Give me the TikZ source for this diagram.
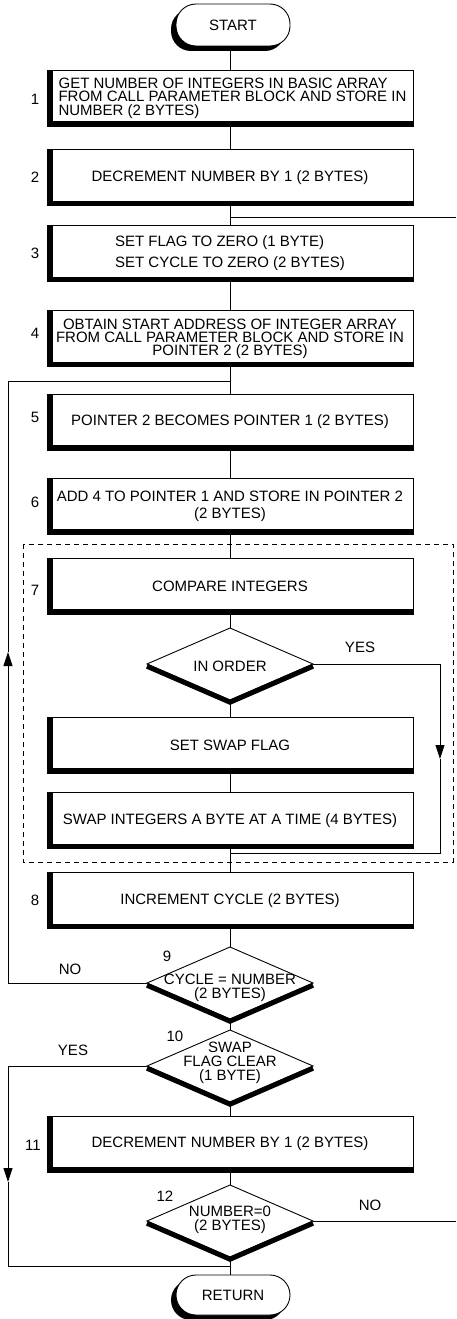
\documentclass[tikz,border=0pt]{standalone}
\usepackage{fontspec}
\setmainfont{Liberation Sans}
\usetikzlibrary{arrows.meta,shapes.geometric,shadows}
\begin{document}
\begin{tikzpicture}[x=1pt,y=-1pt,
  every node/.style={font=\fontsize{15}{14}\selectfont},
  ln/.style={line width=0.9pt},
  arr/.style={line width=0.9pt,-{Triangle[width=9pt,length=14pt]}},
  pbox/.style={rectangle, draw, line width=0.9pt, fill=white,
    minimum width=366pt, minimum height=56pt, inner sep=0pt, outer sep=0pt, align=center,
    path picture={
      \fill[black] (path picture bounding box.north west) rectangle ([xshift=5.5pt]path picture bounding box.south west);
      \fill[black] ([yshift=5pt]path picture bounding box.south west) rectangle (path picture bounding box.south east);}},
  dia/.style={diamond, draw, line width=0.9pt, fill=white, minimum width=166pt,
    minimum height=72pt, inner sep=0pt, outer sep=0pt},
  dtext/.style={align=center, inner sep=0pt, font=\fontsize{15}{14}\selectfont},
  thick edge/.style={line width=5pt, line join=miter, line cap=butt},
  term/.style={rectangle, rounded corners=20pt, draw, line width=0.9pt, fill=white,
    minimum width=114pt, minimum height=42pt, inner sep=0pt, outer sep=0pt,
    drop shadow={shadow xshift=-5pt, shadow yshift=-5pt, fill=black, opacity=1}},
  num/.style={inner sep=0pt},
  dashbox/.style={line width=0.9pt, dash pattern=on 5pt off 4pt}
]
\useasboundingbox[fill=white] (0,0) rectangle (456,1319);

% dashed group
\draw[dashbox] (23,544) rectangle (453,862);

% terminals
\node[term] (start) at (233,25) {START};
\node[term, minimum height=40pt] (ret) at (233,1295) {RETURN};

% boxes
\node[pbox, align=left, font=\fontsize{15}{13.5}\selectfont] (b1) at (230,98)
  {\hspace*{5pt}GET NUMBER OF INTEGERS IN BASIC ARRAY\\\hspace*{5pt}FROM CALL PARAMETER BLOCK AND STORE IN\\\hspace*{5pt}NUMBER (2 BYTES)};
\node[pbox, font=\fontsize{15}{14}\selectfont] (b2) at (230,177.5) {DECREMENT NUMBER BY 1 (2 BYTES)};
\node[pbox, align=left, font=\fontsize{15}{21}\selectfont] (b3) at (230,253.5)
  {SET FLAG TO ZERO (1 BYTE)\\SET CYCLE TO ZERO (2 BYTES)};
\node[pbox, font=\fontsize{15}{13}\selectfont] (b4) at (230,338.5)
  {OBTAIN START ADDRESS OF INTEGER ARRAY\\FROM CALL PARAMETER BLOCK AND STORE IN\\POINTER 2 (2 BYTES)};
\node[pbox] (b5) at (230,422) {POINTER 2 BECOMES POINTER 1 (2 BYTES)};
\node[pbox, font=\fontsize{15}{17}\selectfont] (b6) at (230,506)
  {ADD 4 TO POINTER 1 AND STORE IN POINTER 2\\(2 BYTES)};
\node[pbox] (b7) at (230,586) {COMPARE INTEGERS};
\node[pbox] (bset) at (230,745) {SET SWAP FLAG};
\node[pbox] (bswap) at (230,820.5) {SWAP INTEGERS A BYTE AT A TIME (4 BYTES)};
\node[pbox] (b8) at (230,900.5) {INCREMENT CYCLE (2 BYTES)};
\node[pbox] (b11) at (230,1144) {DECREMENT NUMBER BY 1 (2 BYTES)};

% diamonds
\node[dia] (dord) at (230,664) {};
\node[dia] (d9) at (230,983) {};
\node[dia] (d10) at (230,1066) {};
\node[dia] (d12) at (230,1221) {};
\foreach \d in {dord,d9,d10,d12}{
  \draw[thick edge] ([yshift=-2.2pt]\d.west) -- ([yshift=-2.2pt]\d.south) -- ([yshift=-2.2pt]\d.east);
}
\node[dtext] (tord) at (230,666) {IN ORDER};
\node[dtext] (t9) at (230,988) {CYCLE = NUMBER\\(2 BYTES)};
\node[dtext] (t10) at (230,1063) {SWAP\\FLAG CLEAR\\(1 BYTE)};
\node[dtext] (t12) at (230,1220) {NUMBER=0\\(2 BYTES)};

% step numbers
\node[num] (n1) at (35,99) {1};
\node[num] (n2) at (35,177) {2};
\node[num] (n3) at (35,253) {3};
\node[num] (n4) at (35,333) {4};
\node[num] (n5) at (35,417) {5};
\node[num] (n6) at (35,502) {6};
\node[num] (n7) at (35,590) {7};
\node[num] (n8) at (35,900) {8};
\node[num] (n9) at (167,956) {9};
\node[num] (n10) at (175,1036) {10};
\node[num] (n11) at (33,1145) {11};
\node[num] (n12) at (165,1196) {12};

% branch labels
\node[num] (lyes1) at (360,647) {YES};
\node[num] (lno1) at (70,969) {NO};
\node[num] (lyes2) at (73,1050) {YES};
\node[num] (lno2) at (370,1205) {NO};

% coordinates
\coordinate (j1) at (230,217);
\coordinate (e1) at (456,217);
\coordinate (j2) at (230,381);
\coordinate (j3) at (230,853);
\coordinate (j4) at (230,1266);
\coordinate (e2) at (456,1221);
\coordinate (tip1) at (440,759);
\coordinate (tip2) at (8,652);
\coordinate (tip3) at (8,1182);

% connectors
\draw[ln] (b1.north |- start.south) -- (b1.north);
\draw[ln] (b1.south) -- (b2.north);
\draw[ln] (b2.south) -- (b3.north);
\draw[ln] (j1) -- (e1);
\draw[ln] (b3.south) -- (b4.north);
\draw[ln] (b4.south) -- (b5.north);
\draw[ln] (b5.south) -- (b6.north);
\draw[ln] (b6.south) -- (b7.north);
\draw[ln] (b7.south) -- (dord.north);
\draw[ln] (dord.south) -- (bset.north);
\draw[ln] (bset.south) -- (bswap.north);
\draw[ln] (bswap.south) -- (b8.north);
\draw[arr] (dord.east) -| (tip1);
\draw[ln] (tip1) |- (j3);
\draw[ln] (b8.south) -- (d9.north);
\draw[arr] (d9.west) -| (tip2);
\draw[ln] (tip2) |- (j2);
\draw[ln] (d9.south) -- (d10.north);
\draw[arr] (d10.west) -| (tip3);
\draw[ln] (tip3) |- (j4);
\draw[ln] (d10.south) -- (b11.north);
\draw[ln] (b11.south) -- (d12.north);
\draw[ln] (d12.south) -- (d12.south |- ret.north);
\draw[ln] (d12.east) -- (e2);
\end{tikzpicture}
\end{document}
